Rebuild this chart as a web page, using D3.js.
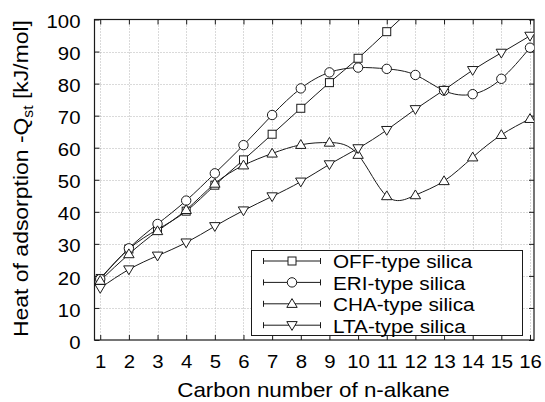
<!DOCTYPE html>
<html>
<head>
<meta charset="utf-8">
<script src="https://cdn.jsdelivr.net/npm/d3@7"></script>
<style>
  html, body { margin: 0; padding: 0; background: #fff; }
  svg { display: block; font-family: "Liberation Sans", Arial, Helvetica, sans-serif; }
</style>
</head>
<body>
<svg id="chart" width="545" height="402"></svg>
<script>
// Carbon number of the n-alkane (x) and isosteric heat per framework (kJ/mol)
const carbonNumbers = [1, 2, 3, 4, 5, 6, 7, 8, 9, 10, 11, 12, 13, 14, 15, 16];
const offValues = [19.2, 28.4, 34.5, 40.2, 48.3, 56.2, 64.2, 72.3, 80.3, 87.9, 96.2, 104.5];
const eriValues = [19.0, 28.6, 36.2, 43.5, 52.0, 60.8, 70.2, 78.5, 83.5, 85.0, 84.6, 82.7, 77.8, 76.7, 81.5, 91.2];
const chaValues = [18.5, 26.8, 34.0, 40.6, 48.8, 54.5, 58.2, 60.9, 61.6, 57.8, 44.9, 45.2, 49.6, 57.0, 64.0, 69.0];
const ltaValues = [16.2, 22.0, 26.3, 30.4, 35.5, 40.4, 44.8, 49.4, 54.8, 59.8, 65.5, 72.0, 78.0, 84.2, 89.6, 94.9];
const seriesNames = ["OFF-type silica", "ERI-type silica", "CHA-type silica", "LTA-type silica"];
const markerShapes = ["square", "circle", "triangleUp", "triangleDown"];
const yTicks = [0, 10, 20, 30, 40, 50, 60, 70, 80, 90, 100];

const series = [offValues, eriValues, chaValues, ltaValues].map((vals, i) => ({
  name: seriesNames[i],
  shape: markerShapes[i],
  points: vals.map((v, j) => ({ x: carbonNumbers[j], y: v }))
}));

const svg = d3.select("#chart");
const plotL = 94.5, plotR = 534, plotT = 19.5, plotB = 340;

const x = d3.scaleLinear().domain([0.8, 16.14]).range([plotL, plotR]);
const y = d3.scaleLinear().domain([0, 100]).range([plotB, plotT]);

const ink = "#1a1a1a";
const textInk = "#000";
const wide = 1.1; // horizontal glyph extension of the lettering

// clip region for the data
svg.append("defs").append("clipPath").attr("id", "plot-clip")
  .append("rect").attr("x", plotL).attr("y", plotT).attr("width", plotR - plotL).attr("height", plotB - plotT);

// dotted grid
const grid = svg.append("g").attr("stroke", "#b4b4b4").attr("stroke-width", 1).attr("stroke-dasharray", "1,2");
grid.selectAll("line.gx").data(carbonNumbers).join("line").attr("class", "gx")
  .attr("x1", d => Math.round(x(d)) + 0.5).attr("x2", d => Math.round(x(d)) + 0.5)
  .attr("y1", plotT).attr("y2", plotB);
grid.selectAll("line.gy").data(yTicks.slice(1, -1)).join("line").attr("class", "gy")
  .attr("y1", d => Math.round(y(d)) + 0.5).attr("y2", d => Math.round(y(d)) + 0.5)
  .attr("x1", plotL).attr("x2", plotR);

// axes with inward ticks on all four sides
const tickLen = 5;
const xAxisB = d3.axisBottom(x).tickValues(carbonNumbers).tickSize(-tickLen).tickPadding(15.2).tickFormat(d3.format("d"));
const xAxisT = d3.axisTop(x).tickValues(carbonNumbers).tickSize(-tickLen).tickFormat("");
const yAxisL = d3.axisLeft(y).tickValues(yTicks).tickSize(-tickLen).tickPadding(14).tickFormat(d3.format("d"));
const yAxisR = d3.axisRight(y).tickValues(yTicks).tickSize(-tickLen).tickFormat("");

function styleAxis(g) {
  g.select(".domain").remove();
  g.selectAll(".tick line").attr("stroke", ink).attr("stroke-width", 1);
  g.selectAll(".tick text").attr("fill", textInk).attr("font-size", 18.5);
}
svg.append("g").attr("transform", `translate(0,${plotB})`).call(xAxisB).call(styleAxis)
  .selectAll(".tick text").attr("transform", `scale(${wide},1)`);
svg.append("g").attr("transform", `translate(0,${plotT})`).call(xAxisT).call(styleAxis);
svg.append("g").attr("transform", `translate(${plotL},0)`).call(yAxisL).call(styleAxis)
  .selectAll(".tick text").attr("dy", "0.44em").attr("x", -14 / wide).attr("transform", `scale(${wide},1)`);
svg.append("g").attr("transform", `translate(${plotR},0)`).call(yAxisR).call(styleAxis);

// frame
svg.append("rect").attr("x", plotL).attr("y", plotT).attr("width", plotR - plotL).attr("height", plotB - plotT)
  .attr("fill", "none").attr("stroke", ink).attr("stroke-width", 1.2);

// marker drawing
function drawMarker(sel, shape) {
  if (shape === "square") {
    sel.append("rect").attr("x", -4).attr("y", -4).attr("width", 8).attr("height", 8);
  } else if (shape === "circle") {
    sel.append("circle").attr("r", 4.7);
  } else if (shape === "triangleUp") {
    sel.append("path").attr("d", "M0,-5.2L5.2,3.6L-5.2,3.6Z");
  } else {
    sel.append("path").attr("d", "M0,5.2L5.2,-3.6L-5.2,-3.6Z");
  }
}

// smooth spline curves and markers
const line = d3.line().x(d => x(d.x)).y(d => y(d.y)).curve(d3.curveNatural);
const dataLayer = svg.append("g").attr("clip-path", "url(#plot-clip)");
series.forEach(s => {
  dataLayer.append("path").datum(s.points).attr("d", line)
    .attr("fill", "none").attr("stroke", ink).attr("stroke-width", 1);
});
series.forEach(s => {
  dataLayer.append("g").selectAll("g").data(s.points).join("g")
    .attr("transform", d => `translate(${x(d.x)},${y(d.y)})`)
    .attr("fill", "#fff").attr("stroke", ink).attr("stroke-width", 1)
    .each(function () { drawMarker(d3.select(this), s.shape); });
});

// legend
const lg = svg.append("g");
lg.append("rect").attr("x", 251.5).attr("y", 250.5).attr("width", 271).attr("height", 85)
  .attr("fill", "#fff").attr("stroke", ink).attr("stroke-width", 1);
series.forEach((s, i) => {
  const ry = 261 + i * 21.4;
  const row = lg.append("g").attr("transform", `translate(0,${ry})`);
  row.append("line").attr("x1", 263.5).attr("x2", 320.5).attr("y1", 0).attr("y2", 0).attr("stroke", ink);
  row.append("line").attr("x1", 263.5).attr("x2", 263.5).attr("y1", -3).attr("y2", 3).attr("stroke", ink);
  row.append("line").attr("x1", 320.5).attr("x2", 320.5).attr("y1", -3).attr("y2", 3).attr("stroke", ink);
  const m = row.append("g").attr("transform", "translate(292,0)").attr("fill", "#fff").attr("stroke", ink);
  drawMarker(m, s.shape);
  row.append("text").attr("transform", `translate(333,7.3) scale(1.12,1)`)
    .attr("font-size", 18.5).attr("fill", textInk).text(s.name);
});

// axis titles
svg.append("text").attr("transform", `translate(313.5,396.5) scale(1.12,1)`).attr("text-anchor", "middle")
  .attr("font-size", 20).attr("fill", textInk).text("Carbon number of n-alkane");

const yt = svg.append("text").attr("transform", `translate(28.3,178.5) rotate(-90) scale(1.12,1)`)
  .attr("text-anchor", "middle").attr("font-size", 20.5).attr("fill", textInk);
yt.append("tspan").text("Heat of adsorption -Q");
yt.append("tspan").attr("font-size", 14).attr("dy", 5).text("st");
yt.append("tspan").attr("dy", -5).text(" [kJ/mol]");
</script>
</body>
</html>
